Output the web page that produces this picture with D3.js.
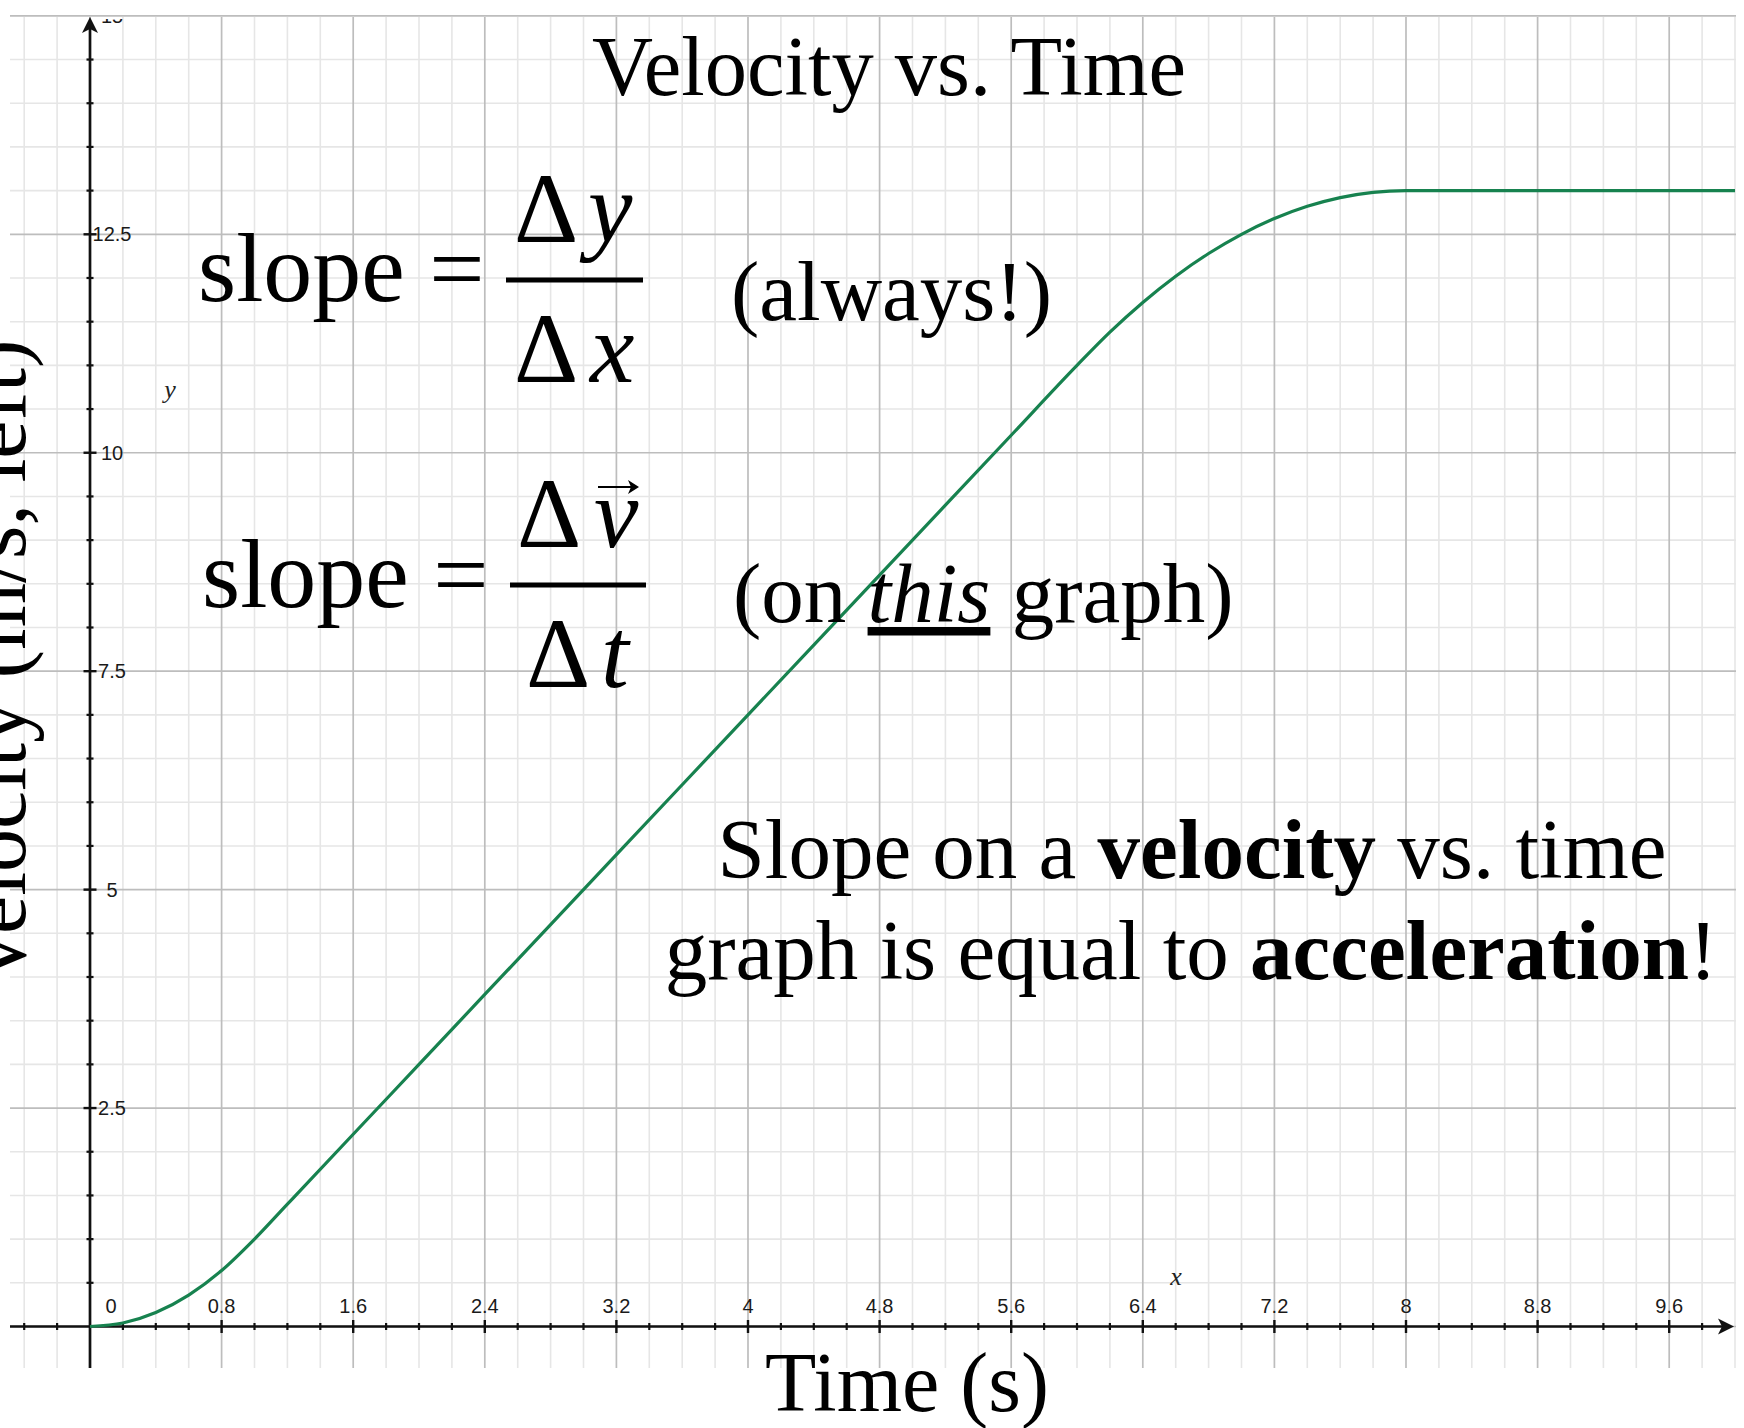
<!DOCTYPE html>
<html>
<head>
<meta charset="utf-8">
<script src="https://cdn.jsdelivr.net/npm/d3@7"></script>
<style>
  body { margin: 0; background: #ffffff; }
  svg { display: block; }
</style>
</head>
<body>
<svg id="chart" width="1744" height="1428"></svg>
<script>
// Velocity (m/s) sampled along time (s)
const timeValues = [0, 0.2, 0.4, 0.6, 0.8, 1.0, 1.2, 1.6, 2.0, 2.4, 2.8, 3.2, 4.0, 4.8, 5.6,
                    6.0, 6.2, 6.4, 6.6, 6.8, 7.0, 7.2, 7.4, 7.6, 7.8, 8.0, 10.0];
const velocityValues = [0, 0.04, 0.16, 0.36, 0.64, 1.0, 1.4, 2.2, 3.0, 3.8, 4.6, 5.4, 7.0, 8.6, 10.2,
                        11.0, 11.38, 11.72, 12.02, 12.28, 12.5, 12.68, 12.82, 12.92, 12.98, 13.0, 13.0];

// Labelled ticks
const xTickValues = [0.8, 1.6, 2.4, 3.2, 4, 4.8, 5.6, 6.4, 7.2, 8, 8.8, 9.6];
const xTickLabels = ["0.8", "1.6", "2.4", "3.2", "4", "4.8", "5.6", "6.4", "7.2", "8", "8.8", "9.6"];
const yTickValues = [2.5, 5, 7.5, 10, 12.5, 15];
const yTickLabels = ["2.5", "5", "7.5", "10", "12.5", "15"];

// Grid steps
const xMinorStep = 0.2, xMajorEvery = 4;
const yMinorStep = 0.5, yMajorEvery = 5;

const svg = d3.select("#chart");

const x = d3.scaleLinear().domain([0, 9.6]).range([90, 90 + 9.6 * 164.5]);
const y = d3.scaleLinear().domain([0, 12.5]).range([1326.5, 234.3]);

// Visible graph window (pixels)
const gLeft = 10, gRight = 1736, gTop = 17, gBottom = 1368;

const serif = "'Liberation Serif', 'Times New Roman', Times, serif";
const sans = "'Liberation Sans', Arial, Helvetica, sans-serif";

// ---- grid ----
const grid = svg.append("g");
const xGrid = d3.range(-2, 51).map(i => ({ v: +(i * xMinorStep).toFixed(2), major: i % xMajorEvery === 0 }));
const yGrid = d3.range(0, 31).map(i => ({ v: +(i * yMinorStep).toFixed(2), major: i % yMajorEvery === 0 }));

grid.selectAll("line.vminor")
  .data(xGrid.filter(d => !d.major)).join("line")
  .attr("x1", d => x(d.v)).attr("x2", d => x(d.v))
  .attr("y1", gTop).attr("y2", gBottom)
  .attr("stroke", "#e6e6e6").attr("stroke-width", 1.6);
grid.selectAll("line.hminor")
  .data(yGrid.filter(d => !d.major)).join("line")
  .attr("x1", gLeft).attr("x2", gRight)
  .attr("y1", d => y(d.v)).attr("y2", d => y(d.v))
  .attr("stroke", "#e6e6e6").attr("stroke-width", 1.6);
grid.selectAll("line.vmajor")
  .data(xGrid.filter(d => d.major)).join("line")
  .attr("x1", d => x(d.v)).attr("x2", d => x(d.v))
  .attr("y1", gTop).attr("y2", gBottom)
  .attr("stroke", "#bdbdbd").attr("stroke-width", 1.7);
grid.selectAll("line.hmajor")
  .data(yGrid.filter(d => d.major)).join("line")
  .attr("x1", gLeft).attr("x2", gRight)
  .attr("y1", d => y(d.v)).attr("y2", d => y(d.v))
  .attr("stroke", "#bdbdbd").attr("stroke-width", 1.7);

// ---- axes ----
const axes = svg.append("g").attr("stroke", "#111").attr("fill", "none");
const x0 = x(0), y0 = y(0);
axes.append("line").attr("x1", gLeft).attr("x2", 1728).attr("y1", y0).attr("y2", y0).attr("stroke-width", 2.7);
axes.append("line").attr("x1", x0).attr("x2", x0).attr("y1", 24).attr("y2", gBottom).attr("stroke-width", 2.7);

// arrow heads
svg.append("path")
  .attr("d", `M${1734},${y0} L${1718},${y0 - 8} L${1722},${y0} L${1718},${y0 + 8} Z`)
  .attr("fill", "#111");
svg.append("path")
  .attr("d", `M${x0},${17} L${x0 - 8},${33} L${x0},${29} L${x0 + 8},${33} Z`)
  .attr("fill", "#111");

// tick marks
axes.selectAll("line.xt")
  .data(xGrid.filter(d => d.v !== 0 && x(d.v) < 1715)).join("line")
  .attr("x1", d => x(d.v)).attr("x2", d => x(d.v))
  .attr("y1", d => y0 - (d.major ? 6.5 : 3.5)).attr("y2", d => y0 + (d.major ? 6.5 : 3.5))
  .attr("stroke-width", d => d.major ? 2.4 : 2.2);
axes.selectAll("line.yt")
  .data(yGrid.filter(d => d.v !== 0 && y(d.v) > 34)).join("line")
  .attr("y1", d => y(d.v)).attr("y2", d => y(d.v))
  .attr("x1", d => x0 - (d.major ? 6.5 : 3.5)).attr("x2", d => x0 + (d.major ? 6.5 : 3.5))
  .attr("stroke-width", d => d.major ? 2.4 : 2.2);

// tick labels
const tickText = svg.append("g")
  .attr("font-family", sans).attr("font-size", 20).attr("fill", "#1a1a1a");
tickText.selectAll("text.xl")
  .data(xTickValues).join("text")
  .attr("x", d => x(d)).attr("y", y0 - 13.5)
  .attr("text-anchor", "middle")
  .text((d, i) => xTickLabels[i]);
tickText.append("text")
  .attr("x", 111).attr("y", y0 - 13.5)
  .attr("text-anchor", "middle").text("0");

// the top label runs off the top of the window
svg.append("clipPath").attr("id", "labelClip")
  .append("rect").attr("x", 0).attr("y", 19).attr("width", 1744).attr("height", 1409);
tickText.append("g").attr("clip-path", "url(#labelClip)")
  .selectAll("text.yl")
  .data(yTickValues).join("text")
  .attr("x", 112).attr("y", d => y(d) + 7)
  .attr("text-anchor", "middle")
  .text((d, i) => yTickLabels[i]);

// axis variable letters
svg.append("text").attr("x", 170).attr("y", 398)
  .attr("font-family", serif).attr("font-style", "italic").attr("font-size", 26)
  .attr("fill", "#222").attr("text-anchor", "middle").text("y");
svg.append("text").attr("x", 1176).attr("y", 1285)
  .attr("font-family", serif).attr("font-style", "italic").attr("font-size", 26)
  .attr("fill", "#222").attr("text-anchor", "middle").text("x");

// ---- velocity curve ----
const points = timeValues.map((t, i) => ({ t, v: velocityValues[i] }));
const line = d3.line()
  .x(d => x(d.t))
  .y(d => y(d.v))
  .curve(d3.curveMonotoneX);
svg.append("path")
  .datum(points)
  .attr("d", line)
  .attr("fill", "none")
  .attr("stroke", "#17824f")
  .attr("stroke-width", 3.2)
  .attr("stroke-linejoin", "round");

// ---- titles ----
svg.append("text")
  .attr("x", 889).attr("y", 95)
  .attr("font-family", serif).attr("font-size", 84.5).attr("text-anchor", "middle")
  .attr("fill", "#000").text("Velocity vs. Time");

svg.append("text")
  .attr("x", 907).attr("y", 1411)
  .attr("font-family", serif).attr("font-size", 84).attr("text-anchor", "middle")
  .attr("fill", "#000").text("Time (s)");

svg.append("text")
  .attr("transform", "translate(25,663) rotate(-90)")
  .attr("font-family", serif).attr("font-size", 86).attr("text-anchor", "middle")
  .attr("fill", "#000").text("Velocity (m/s, left)");

// ---- slope formulas ----
const notes = svg.append("g").attr("font-family", serif).attr("fill", "#000");

function fraction(g, opts) {
  g.append("text").attr("x", opts.sx).attr("y", opts.sy)
    .attr("font-size", 98).text("slope =");
  g.append("line")
    .attr("x1", opts.bx1).attr("x2", opts.bx2).attr("y1", opts.by).attr("y2", opts.by)
    .attr("stroke", "#000").attr("stroke-width", 5);
  g.append("text").attr("x", opts.nx).attr("y", opts.ny).attr("font-size", 100).text("\u0394");
  g.append("text").attr("x", opts.nvx).attr("y", opts.ny)
    .attr("font-size", 100).attr("font-style", "italic").text(opts.num);
  g.append("text").attr("x", opts.dx).attr("y", opts.dy).attr("font-size", 100).text("\u0394");
  g.append("text").attr("x", opts.dvx).attr("y", opts.dy)
    .attr("font-size", 100).attr("font-style", "italic").text(opts.den);
}

fraction(notes, { sx: 198, sy: 301, bx1: 506, bx2: 643, by: 280,
                  nx: 514, ny: 242, nvx: 588, num: "y",
                  dx: 514, dy: 382, dvx: 590, den: "x" });
fraction(notes, { sx: 202, sy: 607, bx1: 510, bx2: 646, by: 585,
                  nx: 517, ny: 547, nvx: 594, num: "v",
                  dx: 526, dy: 687, dvx: 601, den: "t" });

// vector arrow over v
notes.append("line").attr("x1", 598).attr("x2", 634).attr("y1", 487).attr("y2", 487)
  .attr("stroke", "#000").attr("stroke-width", 2.2);
notes.append("path").attr("d", "M639,487 L628,480 L631,487 L628,494 Z").attr("fill", "#000");

notes.append("text").attr("x", 731).attr("y", 320).attr("font-size", 85).text("(always!)");

const onThis = notes.append("text").attr("x", 733).attr("y", 622).attr("font-size", 85);
onThis.append("tspan").text("(on ");
onThis.append("tspan").attr("font-style", "italic").attr("text-decoration", "underline").text("this");
onThis.append("tspan").text(" graph)");

const s1 = notes.append("text").attr("x", 1192).attr("y", 878)
  .attr("font-size", 85).attr("text-anchor", "middle");
s1.append("tspan").text("Slope on a ");
s1.append("tspan").attr("font-weight", "bold").text("velocity");
s1.append("tspan").text(" vs. time");

const s2 = notes.append("text").attr("x", 1191).attr("y", 979)
  .attr("font-size", 85).attr("text-anchor", "middle");
s2.append("tspan").text("graph is equal to ");
s2.append("tspan").attr("font-weight", "bold").text("acceleration");
s2.append("tspan").text("!");
</script>
</body>
</html>
